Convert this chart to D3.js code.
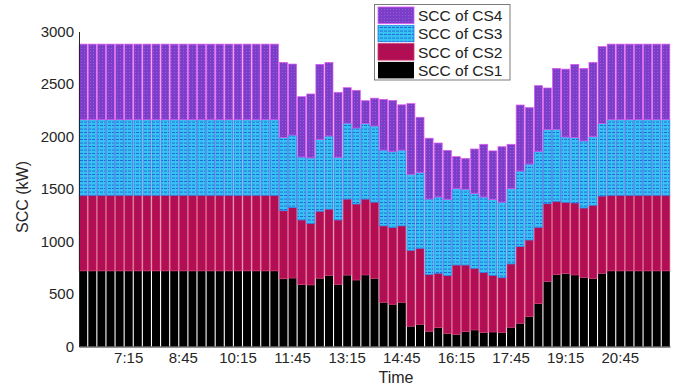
<!DOCTYPE html>
<html>
<head>
<meta charset="utf-8">
<script src="https://cdn.jsdelivr.net/npm/d3@7"></script>
<style>
  html, body { margin: 0; padding: 0; background: #fff; }
  svg { display: block; font-family: "Liberation Sans", Arial, sans-serif; }
</style>
</head>
<body>
<svg id="chart" width="687" height="387"></svg>
<script>
// ---- data (15-min slots from 6:00 to 22:00) ----
const times = [];
for (let i = 0; i < 65; i++) {
  const m = 360 + i * 15;
  times.push(Math.floor(m / 60) + ":" + String(m % 60).padStart(2, "0"));
}
const tickLabels = ["7:15", "8:45", "10:15", "11:45", "13:15", "14:45", "16:15", "17:45", "19:15", "20:45"];
const seriesNames = ["SCC of CS1", "SCC of CS2", "SCC of CS3", "SCC of CS4"];

const full = Array(22).fill(720);
const tailFull = Array(7).fill(720);
const cs1 = [...full,
  645, 652, 590, 586, 650, 677, 592, 680, 633, 681, 649, 421, 402, 421, 193, 211, 145, 179,
  125, 115, 141, 157, 132, 138, 135, 183, 221, 287, 408, 620, 684, 694, 681, 658, 649, 697,
  ...tailFull];
const cs2 = [...full,
  648, 670, 615, 584, 638, 631, 613, 724, 724, 723, 726, 728, 730, 728, 722, 724, 539, 518,
  550, 661, 635, 588, 571, 540, 520, 603, 730, 727, 727, 740, 698, 678, 686, 661, 696, 736,
  ...tailFull];
const cs3 = [...full,
  697, 692, 600, 626, 685, 697, 595, 723, 724, 721, 725, 722, 723, 722, 725, 722, 721, 727,
  725, 727, 722, 713, 721, 722, 720, 717, 720, 724, 723, 705, 686, 623, 622, 639, 653, 692,
  ...tailFull];
const cs4 = [...full,
  716, 676, 574, 609, 714, 701, 621, 338, 359, 216, 265, 483, 488, 431, 673, 526, 579, 514,
  468, 305, 294, 423, 502, 463, 528, 423, 629, 537, 626, 397, 581, 647, 698, 691, 708, 731,
  ...tailFull];

// ---- layout ----
const svg = d3.select("#chart");
const mLeft = 79, mRight = 670, mTop = 31.5, mBottom = 346.5;

const table = times.map((t, i) => ({ t, cs1: cs1[i], cs2: cs2[i], cs3: cs3[i], cs4: cs4[i] }));
const keys = ["cs1", "cs2", "cs3", "cs4"];
const stacked = d3.stack().keys(keys)(table);

const x = d3.scaleBand().domain(times).range([mLeft, mRight]).paddingInner(0.12).paddingOuter(0.02);
const y = d3.scaleLinear().domain([0, 3000]).range([mBottom, mTop]);

// ---- patterns ----
const defs = svg.append("defs");
const p4 = defs.append("pattern").attr("id", "pat4").attr("patternUnits", "userSpaceOnUse").attr("width", 3).attr("height", 3);
p4.append("rect").attr("width", 3).attr("height", 3).attr("fill", "#7a3ec8");
p4.append("rect").attr("width", 1).attr("height", 1).attr("fill", "#9d58d8");
const p3 = defs.append("pattern").attr("id", "pat3").attr("patternUnits", "userSpaceOnUse").attr("width", 4).attr("height", 3.5);
p3.append("rect").attr("width", 4).attr("height", 3.5).attr("fill", "#36c2f2");
p3.append("rect").attr("y", 2.6).attr("width", 3).attr("height", 0.9).attr("fill", "#1f62d4");
const p2 = defs.append("pattern").attr("id", "pat2").attr("patternUnits", "userSpaceOnUse").attr("width", 2).attr("height", 2);
p2.append("rect").attr("width", 2).attr("height", 2).attr("fill", "#b80c50");
p2.append("rect").attr("width", 1).attr("height", 1).attr("fill", "#a0145e");

const fills = { cs1: "#000000", cs2: "url(#pat2)", cs3: "url(#pat3)", cs4: "url(#pat4)" };
const strokes = { cs1: "none", cs2: "#d0386e", cs3: "#2f78e6", cs4: "#e257f0" };

// ---- bars ----
svg.append("g").selectAll("g").data(stacked).join("g")
  .attr("fill", d => fills[d.key])
  .attr("stroke", d => strokes[d.key])
  .attr("stroke-width", 0.7)
  .selectAll("rect").data(d => d).join("rect")
  .attr("x", d => x(d.data.t))
  .attr("width", x.bandwidth())
  .attr("y", d => y(d[1]))
  .attr("height", d => y(d[0]) - y(d[1]));

// ---- axes ----
const yAxis = svg.append("g").attr("transform", `translate(${mLeft},0)`)
  .call(d3.axisLeft(y).tickValues([0, 500, 1000, 1500, 2000, 2500, 3000]).tickFormat(d3.format("d")).tickSize(0).tickPadding(5));
const xAxis = svg.append("g").attr("transform", `translate(0,${mBottom})`)
  .call(d3.axisBottom(x).tickValues(tickLabels).tickSize(0).tickPadding(6));
[yAxis, xAxis].forEach(g => {
  g.select(".domain").attr("stroke", "#262626").attr("stroke-width", 1);
  g.selectAll("text").attr("font-size", 15).attr("fill", "#262626")
    .attr("font-family", "'Liberation Sans', Arial, sans-serif");
});

svg.append("text").attr("x", 396).attr("y", 383).attr("text-anchor", "middle")
  .attr("font-size", 16).attr("fill", "#262626").text("Time");
svg.append("text").attr("transform", "translate(28,197) rotate(-90)").attr("text-anchor", "middle")
  .attr("font-size", 16).attr("fill", "#262626").text("SCC (kW)");

// ---- legend ----
const lg = svg.append("g");
lg.append("rect").attr("x", 374.5).attr("y", 4.5).attr("width", 135.5).attr("height", 75.5)
  .attr("fill", "#fff").attr("stroke", "#7a7a7a").attr("stroke-width", 1);
const legendOrder = ["cs4", "cs3", "cs2", "cs1"];
legendOrder.forEach((k, i) => {
  const yy = 7 + i * 18.3;
  lg.append("rect").attr("x", 378).attr("y", yy).attr("width", 36).attr("height", 16.5)
    .attr("fill", fills[k]).attr("stroke", strokes[k]).attr("stroke-width", 0.8);
  lg.append("text").attr("x", 418).attr("y", yy + 14).attr("font-size", 15.5).attr("fill", "#222")
    .text(seriesNames[keys.indexOf(k)]);
});
</script>
</body>
</html>
